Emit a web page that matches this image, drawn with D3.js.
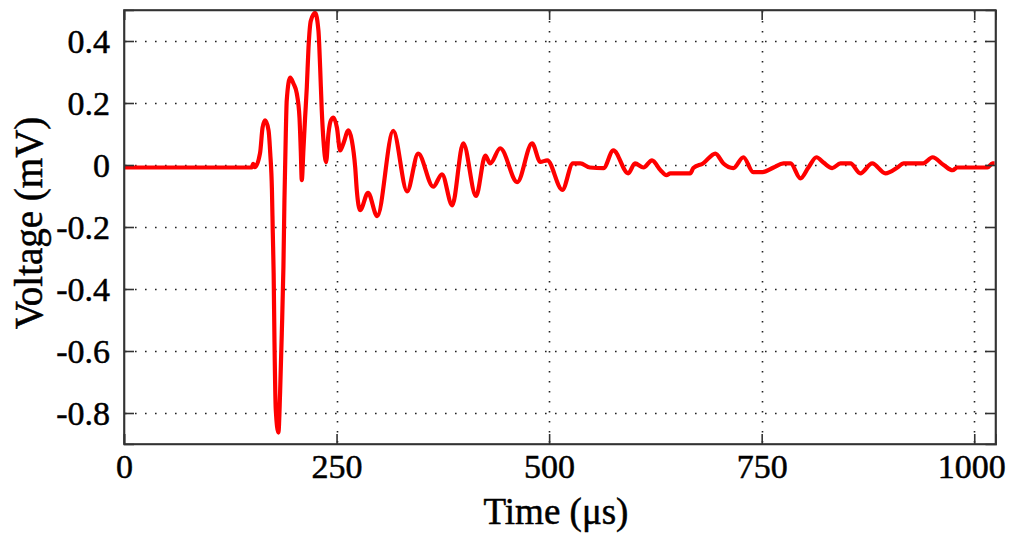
<!DOCTYPE html>
<html><head><meta charset="utf-8">
<script src="https://cdn.jsdelivr.net/npm/d3@7/dist/d3.min.js"></script>
<style>body{margin:0;background:#fff}svg{display:block}</style>
</head><body>
<svg id="c" width="1011" height="533"></svg>
<script>
const timeUs = [0,150,152,154,160,163,166,170,172,174,175,176,177,178.5,181.6,183.6,185.6,187.5,188.7,190.3,191.4,195.4,199.3,203.2,206.4,207.9,209.1,211,213,215,217,219.7,224.8,228.7,230.7,232.6,234.6,237.7,240.5,243.3,246.4,250.4,254.2,258.1,264,268,271.9,273.8,277.7,287,297.8,316.6,333,346,363.7,374,386,399,414,425,430.7,442.5,462.5,480,489.6,497.8,515.5,528,536.7,548,564,575.5,593,601,611,621,631,638,642.6,666,669.6,681,695.5,705,716.7,728.5,740,751,764,775.6,784,795.6,805,814.4,822.6,833,842.6,854.4,866,880,895.6,909.7,916.8,940,951,964,974.5,980,1015.6,1021.5,1024];
const voltageMv = [-0.008,-0.008,0.004,-0.007,0.038,0.121,0.144,0.112,0.038,-0.081,-0.219,-0.348,-0.573,-0.789,-0.863,-0.734,-0.541,-0.329,-0.113,0.102,0.208,0.282,0.263,0.231,0.153,0.047,-0.049,0.047,0.153,0.25,0.378,0.465,0.491,0.433,0.314,0.176,0.079,0.009,0.102,0.144,0.153,0.121,0.047,0.07,0.112,0.079,-0.007,-0.081,-0.146,-0.09,-0.165,0.11,-0.085,0.037,-0.07,-0.03,-0.13,0.07,-0.1,0.03,0.005,0.054,-0.055,0.07,0.01,0.015,-0.08,0.005,0.005,-0.008,-0.01,0.047,-0.027,0.005,-0.008,0.015,-0.017,-0.033,-0.027,-0.027,-0.01,0.005,0.037,0.005,-0.01,0.025,-0.023,-0.023,-0.008,0.005,0.005,-0.043,-0.008,0.025,0.008,-0.01,0.005,0.005,-0.027,0.005,-0.027,-0.008,0.005,0.005,0.025,0.0,-0.017,-0.008,-0.008,0.005,0.005];
const xTicks = [0,250,500,750,1000];
const yTicks = [-0.8,-0.6,-0.4,-0.2,0,0.2,0.4];
const yTickLabels = ["-0.8","-0.6","-0.4","-0.2","0","0.2","0.4"];
const xLabel = "Time (\u03bcs)";
const yLabel = "Voltage (mV)";

const L=124,R=995.5,T=10,B=444;
const svg=d3.select("#c");
const x=d3.scaleLinear().domain([0,1025]).range([L,R]);
const y=d3.scaleLinear().domain([-0.9,0.5]).range([B,T]);
const font="'Liberation Serif','Times New Roman',serif";
const axisCol="#333";

// grid
const g=svg.append("g");
g.selectAll(".vg").data(xTicks.filter(d=>d>0)).join("line")
 .attr("x1",d=>Math.round(x(d))+0.5).attr("x2",d=>Math.round(x(d))+0.5).attr("y1",T+1).attr("y2",B)
 .attr("stroke","#222").attr("stroke-width",1.6).attr("stroke-dasharray","1.6,8.4");
g.selectAll(".hg").data(yTicks).join("line")
 .attr("y1",d=>Math.round(y(d))+0.5).attr("y2",d=>Math.round(y(d))+0.5).attr("x1",L+1).attr("x2",R)
 .attr("stroke","#222").attr("stroke-width",1.6).attr("stroke-dasharray","1.6,8.4");

// line
const data=timeUs.map((t,i)=>[t,voltageMv[i]]);
svg.append("path").datum(data)
 .attr("d",d3.line().x(d=>x(d[0])).y(d=>y(d[1])).curve(d3.curveMonotoneX))
 .attr("fill","none").attr("stroke","#ff0000").attr("stroke-width",4.2).attr("stroke-linejoin","round");

// axes (inward ticks all round)
const tl=-10;
const axB=svg.append("g").attr("transform",`translate(0,${B})`)
 .call(d3.axisBottom(x).tickValues(xTicks).tickSize(tl).tickFormat(d3.format("d")));
const axT=svg.append("g").attr("transform",`translate(0,${T})`)
 .call(d3.axisTop(x).tickValues(xTicks).tickSize(tl).tickFormat(""));
const axL=svg.append("g").attr("transform",`translate(${L},0)`)
 .call(d3.axisLeft(y).tickValues(yTicks).tickSize(tl).tickFormat((d,i)=>yTickLabels[i]));
const axR=svg.append("g").attr("transform",`translate(${R},0)`)
 .call(d3.axisRight(y).tickValues(yTicks).tickSize(tl).tickFormat(""));
[axB,axT,axL,axR].forEach(a=>{
  a.selectAll("path").attr("stroke",axisCol).attr("stroke-width",1.6);
  a.selectAll("line").attr("stroke",axisCol).attr("stroke-width",1.6);
  a.selectAll("text").attr("font-family",font).attr("font-size",34).attr("fill","#000")
   .attr("stroke","#000").attr("stroke-width",0.5);
});
axB.selectAll("text").attr("y",10).attr("dy","0.71em");
axB.selectAll(".tick").filter(d=>d===1000).select("text").attr("dx",-3);
axL.selectAll("text").attr("x",-14).attr("dy","0.34em");
svg.append("rect").attr("x",L).attr("y",T).attr("width",R-L).attr("height",B-T)
 .attr("fill","none").attr("stroke",axisCol).attr("stroke-width",1.6);

svg.append("text").attr("x",556).attr("y",524).attr("text-anchor","middle")
 .attr("font-family",font).attr("font-size",37).attr("stroke","#000").attr("stroke-width",0.5).text(xLabel);
svg.append("text").attr("transform","translate(42,223) rotate(-90)").attr("text-anchor","middle")
 .attr("font-family",font).attr("font-size",39).attr("stroke","#000").attr("stroke-width",0.5).text(yLabel);
</script>
</body></html>
